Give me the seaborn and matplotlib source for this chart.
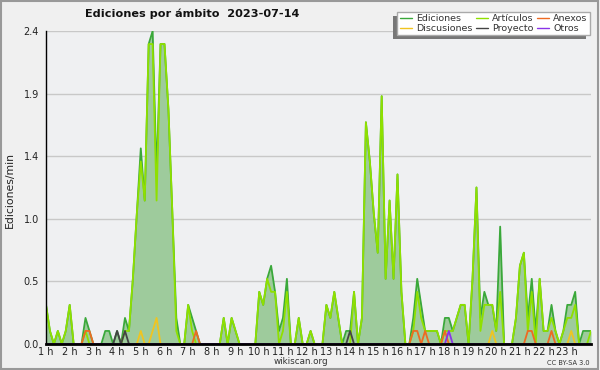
import numpy as np
import pandas as pd
import matplotlib
matplotlib.use("Agg")
import matplotlib.pyplot as plt
import seaborn as sns
from matplotlib.lines import Line2D
from matplotlib.patches import Rectangle
from matplotlib.ticker import FixedLocator, MultipleLocator, FuncFormatter

# 10 minute slots, from 1 h to 24 h
slot_minutes = np.arange(60, 24 * 60 + 1, 10)

# edits per minute, one value per slot
ediciones = [
    0.3, 0.1, 0, 0.1, 0, 0.1, 0.3, 0, 0, 0, 0.2, 0.1,
    0, 0, 0, 0.1, 0.1, 0, 0.1, 0, 0.2, 0.1, 0.5, 1.0,
    1.5, 1.1, 2.3, 2.4, 1.3, 2.3, 2.3, 1.8, 1.0, 0.2, 0, 0,
    0.3, 0.2, 0.1, 0, 0, 0, 0, 0, 0, 0.2, 0, 0.2,
    0.1, 0, 0, 0, 0, 0, 0.4, 0.3, 0.5, 0.6, 0.4, 0.1,
    0.2, 0.5, 0, 0, 0.2, 0, 0, 0.1, 0, 0, 0, 0.3,
    0.2, 0.4, 0.2, 0, 0.1, 0.1, 0.4, 0, 0.2, 1.7, 1.4, 1.0,
    0.7, 1.9, 0.5, 1.1, 0.5, 1.3, 0.4, 0, 0, 0.2, 0.5, 0.3,
    0.1, 0.1, 0.1, 0.1, 0, 0.2, 0.2, 0.1, 0.2, 0.3, 0.3, 0,
    0.5, 1.2, 0.2, 0.4, 0.3, 0.3, 0.1, 0.9, 0, 0, 0, 0.2,
    0.6, 0.7, 0.2, 0.5, 0.1, 0.5, 0.1, 0.1, 0.3, 0.1, 0, 0.1,
    0.3, 0.3, 0.4, 0, 0.1, 0.1, 0.1,
]
articulos = [
    0.3, 0.1, 0, 0.1, 0, 0.1, 0.3, 0, 0, 0, 0.1, 0,
    0, 0, 0, 0, 0, 0, 0, 0, 0.1, 0.1, 0.5, 1.0,
    1.4, 1.1, 2.3, 2.3, 1.1, 2.3, 2.3, 1.8, 1.0, 0.1, 0, 0,
    0.3, 0.1, 0, 0, 0, 0, 0, 0, 0, 0.2, 0, 0.2,
    0.1, 0, 0, 0, 0, 0, 0.4, 0.3, 0.5, 0.4, 0.4, 0,
    0.1, 0.4, 0, 0, 0.2, 0, 0, 0.1, 0, 0, 0, 0.3,
    0.2, 0.4, 0.2, 0, 0, 0, 0.4, 0, 0.2, 1.7, 1.4, 1.0,
    0.7, 1.9, 0.5, 1.1, 0.5, 1.3, 0.4, 0, 0, 0.1, 0.4, 0.2,
    0.1, 0.1, 0.1, 0.1, 0, 0.1, 0.1, 0.1, 0.2, 0.3, 0.3, 0,
    0.5, 1.2, 0.1, 0.3, 0.3, 0.3, 0.1, 0.4, 0, 0, 0, 0.2,
    0.6, 0.7, 0.1, 0.4, 0, 0.5, 0.1, 0.1, 0.2, 0.1, 0, 0.1,
    0.2, 0.2, 0.3, 0, 0, 0, 0.1,
]
# the small namespaces only have a few non-zero slots
anexos_slots = [10, 11, 38, 93, 94, 96, 101, 122, 123, 128]
anexos_vals = [0.1, 0.1, 0.1, 0.1, 0.1, 0.1, 0.1, 0.1, 0.1, 0.1]
discusiones_slots = [24, 27, 28, 113, 133]
discusiones_vals = [0.1, 0.1, 0.2, 0.1, 0.1]
proyecto_slots = [18, 20, 77]
proyecto_vals = [0.1, 0.1, 0.1]
otros_slots = [102]
otros_vals = [0.1]

hour_labels = [f"{h} h" for h in range(1, 24)]

COLORS = {
    "Ediciones": "#3aa83a",
    "Artículos": "#8fe000",
    "Anexos": "#ee6a22",
    "Discusiones": "#f0c420",
    "Proyecto": "#444444",
    "Otros": "#8a33e8",
}
FILL = "#9ecb9c"


def sparse(slots, vals):
    out = np.zeros(len(slot_minutes))
    out[slots] = vals
    return out


hours = slot_minutes / 60
series = {
    "Ediciones": np.array(ediciones),
    "Artículos": np.array(articulos),
    "Discusiones": sparse(discusiones_slots, discusiones_vals),
    "Anexos": sparse(anexos_slots, anexos_vals),
    "Proyecto": sparse(proyecto_slots, proyecto_vals),
    "Otros": sparse(otros_slots, otros_vals),
}
df = pd.concat(
    [pd.DataFrame({"hora": hours, "valor": v, "ambito": k}) for k, v in series.items()],
    ignore_index=True,
)

sns.set_theme(style="white")
plt.rcParams["font.family"] = ["DejaVu Sans"]

fig = plt.figure(figsize=(6, 3.7), dpi=100, facecolor="#f0f0f0")
ax = fig.add_axes([46 / 600, 26 / 370, 545 / 600, 313 / 370])
ax.set_facecolor("#eff0f2")

ax.fill_between(hours, series["Ediciones"], 0, color=FILL, lw=0, zorder=1)
sns.lineplot(
    data=df, x="hora", y="valor", hue="ambito",
    hue_order=list(series.keys()), palette=COLORS,
    linewidth=1.3, legend=False, errorbar=None, ax=ax, zorder=2,
)

ax.set_xlim(1, 24)
ax.set_ylim(0, 2.4)
ax.xaxis.set_major_locator(FixedLocator(range(1, 24)))
ax.set_xticklabels(hour_labels)
ax.xaxis.set_minor_locator(MultipleLocator(1 / 6))
ax.yaxis.set_major_locator(FixedLocator(np.linspace(0, 2.4, 6)))
ax.yaxis.set_major_formatter(FuncFormatter(lambda v, p: f"{v:.1f}"))
ax.yaxis.set_minor_locator(MultipleLocator(0.12))
ax.tick_params(axis="y", which="major", direction="out", length=4, width=1,
               color="black", labelsize=7, pad=1, labelcolor="#222222")
ax.tick_params(axis="x", which="major", direction="out", length=2.5, width=1,
               color="black", labelsize=7, pad=0, labelcolor="#222222")
ax.tick_params(axis="y", which="minor", direction="out", length=3, width=1, color="black")
ax.tick_params(axis="x", which="minor", direction="out", length=2.5, width=1, color="black")
ax.yaxis.grid(True, color="#c8c8c8", lw=1)
ax.set_axisbelow(True)
ax.set_xlabel("")
ax.set_ylabel("")
for s in ["top", "right"]:
    ax.spines[s].set_visible(False)
ax.spines["bottom"].set_linewidth(2)
ax.spines["bottom"].set_color("black")
ax.spines["left"].set_linewidth(1)
ax.spines["left"].set_color("black")

fig.text(10 / 600, 1 - 190 / 370, "Ediciones/min", rotation=90,
         ha="center", va="center", fontsize=7.8, color="#222222")
fig.text(85 / 600, 1 - 14 / 370, "Ediciones por ámbito  2023-07-14",
         ha="left", va="center", fontsize=8.1, weight="bold", color="#111111")
fig.text(301 / 600, 1 - 362 / 370, "wikiscan.org", ha="center", va="center",
         fontsize=6.3, color="#333333")
fig.text(590 / 600, 1 - 363 / 370, "CC BY-SA 3.0", ha="right", va="center",
         fontsize=4.8, color="#333333")

legend_order = ["Ediciones", "Discusiones", "Artículos", "Proyecto", "Anexos", "Otros"]
handles = [Line2D([0], [0], color=COLORS[k], lw=1.0) for k in legend_order]
leg = fig.legend(handles, legend_order, ncol=3, loc="upper right",
                 bbox_to_anchor=(590 / 600, 1 - 12 / 370), fontsize=6.8,
                 frameon=True, fancybox=False, framealpha=1,
                 facecolor="white", edgecolor="#aaaaaa",
                 handlelength=1.3, handletextpad=0.4, columnspacing=0.4,
                 labelspacing=0.05, borderpad=0.25, borderaxespad=0)
for t in leg.get_texts():
    t.set_color("#333333")
leg.set_zorder(5)

# shadow to the lower left of the legend box
fig.canvas.draw()
bb = leg.get_window_extent().transformed(fig.transFigure.inverted())
fig.patches.append(Rectangle((bb.x0 - 4 / 600, bb.y0 - 4 / 370), bb.width, bb.height,
                             transform=fig.transFigure, facecolor="#777777",
                             edgecolor="none", zorder=4))

fig.patches.append(Rectangle((0.002, 0.003), 0.994, 0.994, transform=fig.transFigure,
                             fill=False, edgecolor="#999999", lw=1.5, zorder=0))

fig.savefig("out.png", dpi=100, facecolor=fig.get_facecolor())
